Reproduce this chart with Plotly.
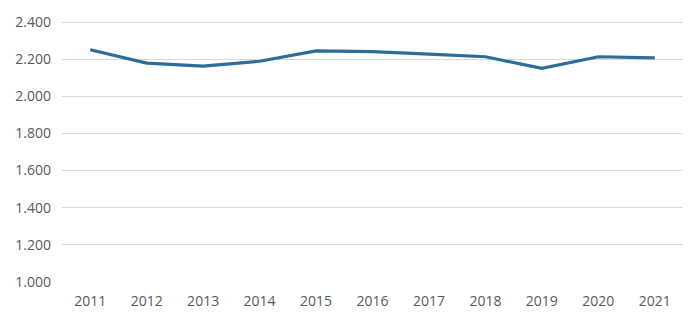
import plotly.graph_objects as go

years = ["2011", "2012", "2013", "2014", "2015", "2016", "2017", "2018", "2019", "2020", "2021"]
values = [2251, 2179, 2163, 2189, 2245, 2241, 2227, 2213, 2151, 2213, 2207]
y_ticks = [1000, 1200, 1400, 1600, 1800, 2000, 2200, 2400]

fig = go.Figure(
    go.Scatter(
        x=years,
        y=values,
        mode="lines",
        line=dict(color="#2E6D98", width=3.2),
        hoverinfo="skip",
    )
)

fig.update_layout(
    width=700,
    height=322,
    margin=dict(l=62, r=17, t=15, b=40),
    paper_bgcolor="white",
    plot_bgcolor="white",
    separators=",.",
    showlegend=False,
    font=dict(family="Open Sans, Liberation Sans, sans-serif", size=14, color="#595959"),
)

fig.update_xaxes(
    type="category",
    range=[-0.5, len(years) - 0.5],
    showgrid=False,
    showline=False,
    ticks="",
    ticklabelstandoff=9,
    tickfont=dict(size=14, color="#595959"),
)

# a little headroom so the 2.400 gridline is drawn inside the plot area
fig.update_yaxes(
    range=[1000, 2411],
    tickvals=y_ticks,
    tickformat=",d",
    showgrid=True,
    gridcolor="#D9D9D9",
    gridwidth=1,
    zeroline=False,
    showline=False,
    ticks="",
    ticklabelstandoff=10,
    tickfont=dict(size=14, color="#595959"),
)

fig.write_html("out.html")
